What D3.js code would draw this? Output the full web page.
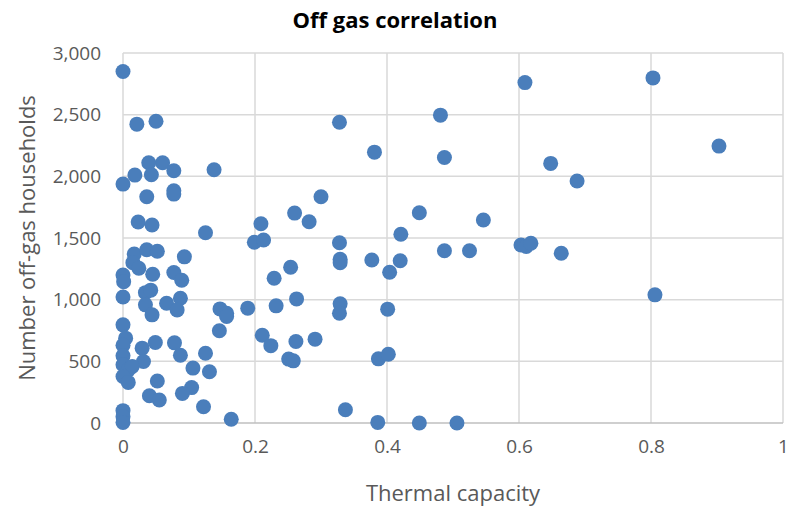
<!DOCTYPE html>
<html lang="en">
<head>
<meta charset="UTF-8">
<title>Off gas correlation</title>
<script src="https://d3js.org/d3.v7.min.js"></script>
<style>
  body { margin: 0; background: #fff; }
  svg text { font-family: "Open Sans", "Liberation Sans", sans-serif; fill: #595959; }
</style>
</head>
<body>
<div id="chart"></div>
<script>
// thermal capacity (x) and number of off-gas households (y)
const thermalCapacity = [
  0, 0.021, 0.050, 0.039, 0.060, 0.018, 0.043, 0.077, 0.138, 0,
  0.036, 0.077, 0.077, 0.023, 0.044, 0.125, 0.209, 0.199, 0.213, 0.017,
  0.036, 0.052, 0.093, 0.015, 0.024, 0, 0.001, 0.045, 0.077, 0.089,
  0.229, 0, 0.034, 0.042, 0.087, 0.034, 0.066, 0.082, 0.044, 0.147,
  0.157, 0.157, 0.189, 0.232, 0.146, 0, 0.004, 0, 0.029, 0.049,
  0.078, 0.087, 0.125, 0, 0, 0.031, 0.008, 0.014, 0, 0.008,
  0.106, 0.131, 0.052, 0.104, 0.090, 0.040, 0.055, 0.122, 0.164, 0,
  0, 0, 0.211, 0.224,
  0.328, 0.381, 0.481, 0.487, 0.609, 0.300, 0.260, 0.282, 0.449, 0.546,
  0.421, 0.328, 0.329, 0.329, 0.377, 0.420, 0.404, 0.487, 0.525, 0.603,
  0.611, 0.618, 0.254, 0.263, 0.329, 0.328, 0.401, 0.262, 0.291, 0.251,
  0.258, 0.387, 0.402, 0.337, 0.386, 0.449, 0.506,
  0.803, 0.903, 0.648, 0.688, 0.664, 0.806
];
const offGasHouseholds = [
  2850, 2423, 2447, 2110, 2110, 2010, 2013, 2045, 2053, 1937,
  1834, 1883, 1856, 1630, 1605, 1543, 1616, 1465, 1484, 1370,
  1405, 1392, 1347, 1300, 1255, 1200, 1146, 1206, 1220, 1157,
  1174, 1022, 1057, 1077, 1012, 958, 971, 917, 877, 925,
  890, 863, 931, 950, 748, 796, 688, 630, 607, 653,
  650, 549, 565, 545, 472, 499, 431, 458, 377, 329,
  445, 415, 341, 287, 240, 221, 186, 132, 30, 100,
  50, 5, 711, 627,
  2439, 2196, 2496, 2153, 2760, 1834, 1702, 1632, 1705, 1646,
  1530, 1462, 1328, 1300, 1322, 1316, 1222, 1397, 1397, 1443,
  1432, 1457, 1263, 1006, 966, 890, 923, 661, 680, 518,
  504, 520, 558, 108, 5, 0, 0,
  2798, 2245, 2105, 1962, 1376, 1039
];
const xTicks = [0, 0.2, 0.4, 0.6, 0.8, 1];
const yTicks = [0, 500, 1000, 1500, 2000, 2500, 3000];

const W = 789, H = 509;
const margin = {top: 53, right: 6, bottom: 86, left: 123};
const width = W - margin.left - margin.right,
      height = H - margin.top - margin.bottom;

const svg = d3.select("#chart").append("svg")
    .attr("width", W)
    .attr("height", H);

const g = svg.append("g")
    .attr("transform", `translate(${margin.left},${margin.top})`);

const x = d3.scaleLinear().domain([0, 1]).range([0, width]);
const y = d3.scaleLinear().domain([0, 3000]).range([height, 0]);

// gridlines
g.append("g")
    .selectAll("line.vgrid")
    .data(xTicks)
    .join("line")
    .attr("x1", d => x(d)).attr("x2", d => x(d))
    .attr("y1", 0).attr("y2", height)
    .attr("stroke", "#d9d9d9")
    .attr("stroke-width", 1.5);

g.append("g")
    .selectAll("line.hgrid")
    .data(yTicks)
    .join("line")
    .attr("x1", 0).attr("x2", width)
    .attr("y1", d => y(d)).attr("y2", d => y(d))
    .attr("stroke", d => d === 0 ? "#bfbfbf" : "#d9d9d9")
    .attr("stroke-width", 1.5);

// axes (labels only, lines drawn as gridlines above)
const xAxis = g.append("g")
    .attr("transform", `translate(0,${height})`)
    .call(d3.axisBottom(x).tickValues(xTicks).tickSize(0).tickPadding(17).tickFormat(d3.format("")));
const yAxis = g.append("g")
    .call(d3.axisLeft(y).tickValues(yTicks).tickSize(0).tickPadding(22).tickFormat(d3.format(",")));
[xAxis, yAxis].forEach(a => {
  a.select(".domain").remove();
  a.selectAll("text").style("font-size", "19px").attr("fill", "#595959");
});

// points
g.selectAll("circle")
    .data(thermalCapacity.map((d, i) => [d, offGasHouseholds[i]]))
    .join("circle")
    .attr("cx", d => x(d[0]))
    .attr("cy", d => y(d[1]))
    .attr("r", 7.5)
    .attr("fill", "#4a7ebb");

// titles
svg.append("text")
    .attr("x", 395).attr("y", 28)
    .attr("text-anchor", "middle")
    .style("font-size", "22px").style("font-weight", "bold")
    .style("fill", "#000")
    .text("Off gas correlation");

svg.append("text")
    .attr("x", margin.left + width / 2).attr("y", 501)
    .attr("text-anchor", "middle")
    .style("font-size", "22px")
    .text("Thermal capacity");

svg.append("text")
    .attr("transform", `translate(35,${margin.top + height / 2}) rotate(-90)`)
    .attr("text-anchor", "middle")
    .style("font-size", "22px")
    .text("Number off-gas households");
</script>
</body>
</html>
